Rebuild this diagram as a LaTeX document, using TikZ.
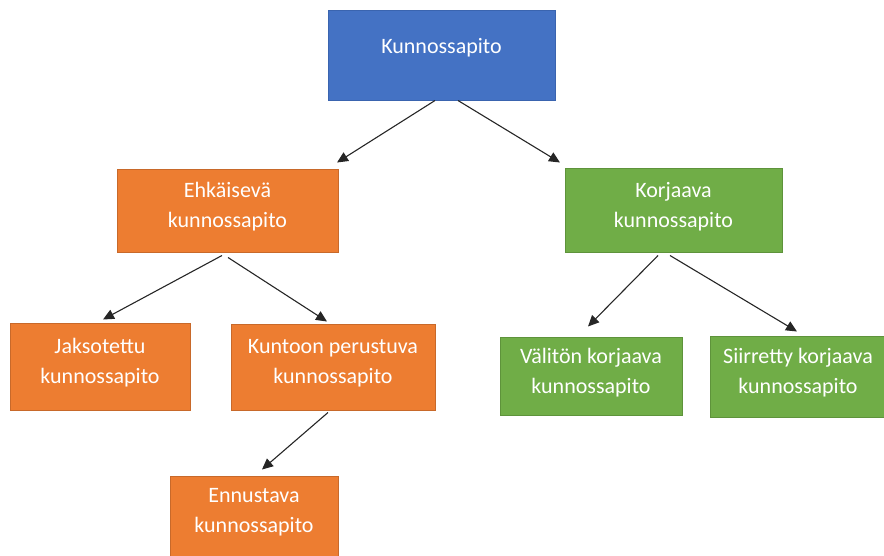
\documentclass[tikz,border=0pt]{standalone}
\usepackage{fontspec}
\setmainfont{Carlito}
\usetikzlibrary{arrows.meta,positioning}
\definecolor{topBlue}{HTML}{4472C4}
\definecolor{topBlueLine}{HTML}{3A64AF}
\definecolor{prevOrange}{HTML}{ED7D31}
\definecolor{prevOrangeLine}{HTML}{C8692A}
\definecolor{corrGreen}{HTML}{70AD47}
\definecolor{corrGreenLine}{HTML}{5E933B}
\tikzset{
  box/.style={draw, line width=1pt, text=white, align=center, inner sep=0pt,
    font=\fontsize{22}{30}\selectfont, text depth=11pt},
  blueBox/.style={box, fill=topBlue, draw=topBlueLine},      % root
  orangeBox/.style={box, fill=prevOrange, draw=prevOrangeLine}, % preventive branch
  greenBox/.style={box, fill=corrGreen, draw=corrGreenLine},  % corrective branch
  treeArrow/.style={-{Triangle[length=11pt,width=10pt]}, line width=1.1pt, black!85}
}
\begin{document}
\begin{tikzpicture}[x=1pt, y=-1pt]
  \useasboundingbox (0,0) rectangle (884,555);
  % level 0
  \node[blueBox, minimum width=227pt, minimum height=90pt, text depth=19pt] (root) at (441.5,55) {Kunnossapito};
  % level 1
  \node[orangeBox, minimum width=221pt, minimum height=83pt] (prev) at (227.5,210.5) {Ehkäisevä\\kunnossapito};
  \node[greenBox, minimum width=217pt, minimum height=84pt] (corr) at (673.5,210) {Korjaava\\kunnossapito};
  % level 2
  \node[orangeBox, minimum width=180pt, minimum height=87pt] (period) at (100,366.5) {Jaksotettu\\kunnossapito};
  \node[orangeBox, minimum width=204pt, minimum height=86pt] (cond) at (333,367) {Kuntoon perustuva\\kunnossapito};
  \node[greenBox, minimum width=182pt, minimum height=78pt] (instant) at (591,376) {Välitön korjaava\\kunnossapito};
  \node[greenBox, minimum width=176pt, minimum height=81pt] (delayed) at (798,376.5) {Siirretty korjaava\\kunnossapito};
  % level 3
  \node[orangeBox, minimum width=168pt, minimum height=80pt] (predict) at (254,516) {Ennustava\\kunnossapito};
  % connectors
  \draw[treeArrow] ([xshift=-6.5pt]root.south) -- ([xshift=109.5pt,yshift=6pt]prev.north);
  \draw[treeArrow] ([xshift=16.5pt]root.south) -- ([xshift=-113.5pt,yshift=5pt]corr.north);
  \draw[treeArrow] ([xshift=-5.5pt,yshift=-3pt]prev.south) -- ([xshift=3pt,yshift=3pt]period.north);
  \draw[treeArrow] ([xshift=0.5pt,yshift=-5pt]prev.south) -- ([xshift=-6pt,yshift=2pt]cond.north);
  \draw[treeArrow] ([xshift=-15.5pt,yshift=-3pt]corr.south) -- ([xshift=-3pt,yshift=10pt]instant.north);
  \draw[treeArrow] ([xshift=-3.5pt,yshift=-3pt]corr.south) -- ([xshift=-1pt,yshift=4pt]delayed.north);
  \draw[treeArrow] ([xshift=-5pt,yshift=-2pt]cond.south) -- ([xshift=8pt,yshift=6pt]predict.north);
\end{tikzpicture}
\end{document}
